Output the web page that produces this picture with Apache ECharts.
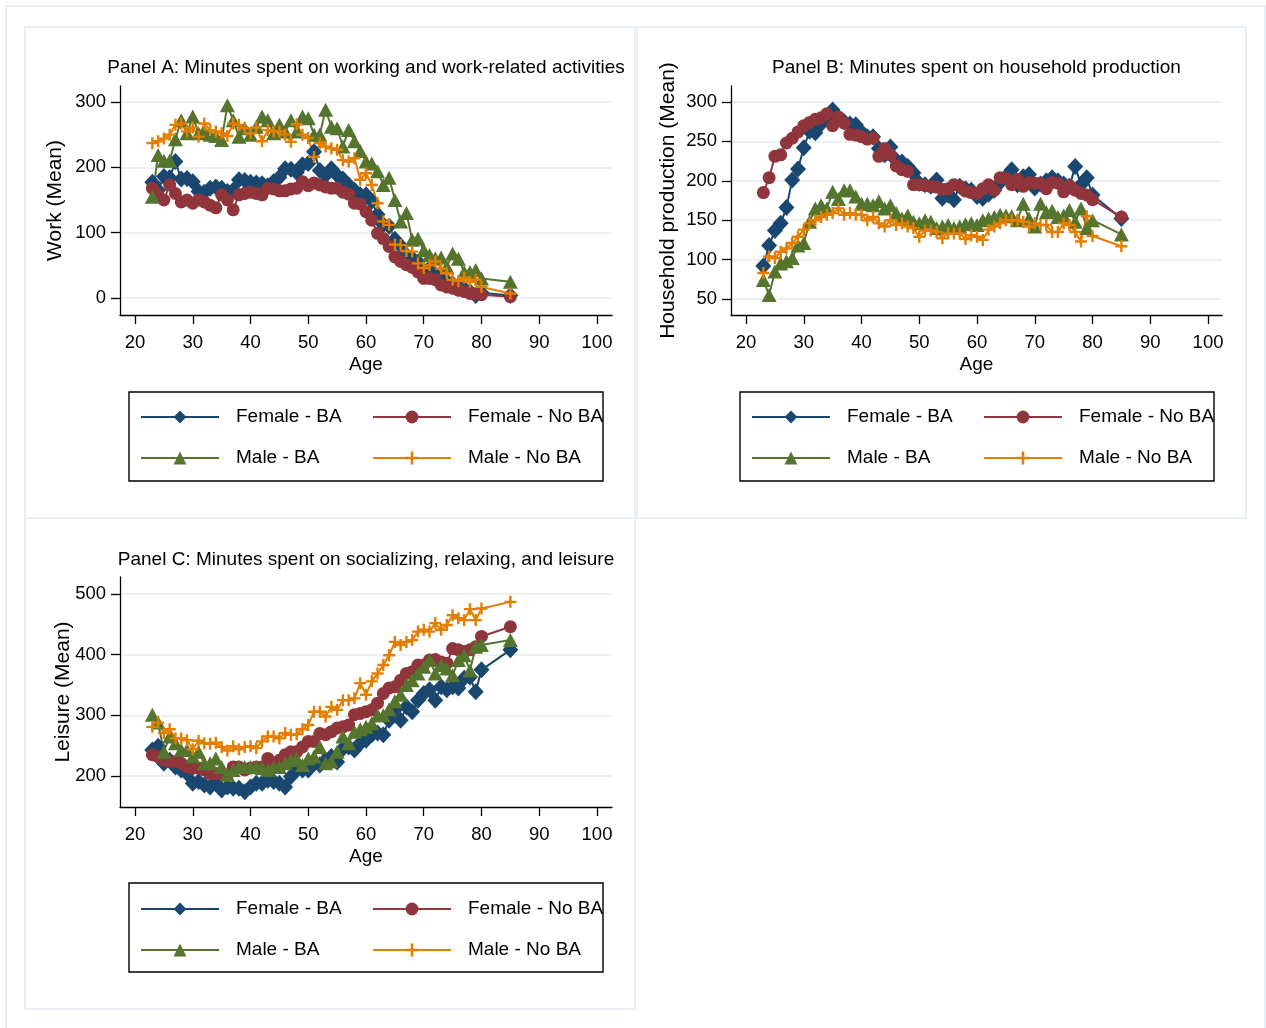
<!DOCTYPE html>
<html>
<head>
<meta charset="utf-8">
<script src="https://cdn.jsdelivr.net/npm/echarts@6/dist/echarts.min.js"></script>
<style>
  html, body { margin: 0; padding: 0; background: #ffffff; }
  #chart { width: 1266px; height: 1028px; }
</style>
</head>
<body>
<div id="chart"></div>
<script>
// Ages observed (23 through 80, then the 85+ group)
const ages = [23,24,25,26,27,28,29,30,31,32,33,34,35,36,37,38,39,40,41,42,
              43,44,45,46,47,48,49,50,51,52,53,54,55,56,57,58,59,60,61,62,
              63,64,65,66,67,68,69,70,71,72,73,74,75,76,77,78,79,80,85];

const groupNames = ['Female - BA', 'Female - No BA', 'Male - BA', 'Male - No BA'];

const ageTicks = [20, 30, 40, 50, 60, 70, 80, 90, 100];
const workTicks = [0, 100, 200, 300];
const homeTicks = [50, 100, 150, 200, 250, 300];
const leisureTicks = [200, 300, 400, 500];

const panelTitles = [
  'Panel A: Minutes spent on working and work-related activities',
  'Panel B: Minutes spent on household production',
  'Panel C: Minutes spent on socializing, relaxing, and leisure'
];
const yTitles = ['Work (Mean)', 'Household production (Mean)', 'Leisure (Mean)'];

// Panel A: work minutes
const workFemaleBA = [177,165,186,184,209,182,183,178,163,162,
                      168,170,168,163,165,181,180,177,176,175,
                      172,178,185,198,197,192,204,206,224,195,
                      188,198,188,182,173,165,158,158,148,128,
                      112,110,90,80,66,61,55,42,45,36,
                      30,24,22,18,14,10,4,8,
                      4];
const workFemaleNoBA = [168,158,150,173,160,147,150,145,150,147,
                        142,138,158,150,135,158,160,162,160,158,
                        168,167,164,164,167,168,178,172,176,173,
                        170,168,168,162,159,145,144,132,119,99,
                        91,79,63,56,51,47,40,30,30,28,
                        20,17,15,12,10,7,6,5,
                        2];
const workMaleBA = [155,219,210,210,243,272,252,278,252,255,
                    250,248,242,295,272,247,260,250,262,278,
                    272,252,265,255,272,255,278,275,250,250,
                    288,262,260,232,257,240,225,209,206,194,
                    173,184,150,117,130,89,91,73,66,61,
                    62,48,68,60,40,40,43,30,
                    25];
const workMaleNoBA = [237,240,244,250,265,267,255,261,247,267,
                      257,255,252,248,267,265,260,252,261,240,
                      257,255,255,250,239,266,250,245,216,237,
                      232,229,227,211,209,214,181,191,173,145,
                      117,112,82,81,72,71,53,46,50,56,
                      45,38,28,26,31,25,28,17,
                      7];

// Panel B: household production minutes
const homeFemaleBA = [92,118,137,146,166,201,215,242,263,261,
                      272,280,290,280,275,272,271,262,256,256,
                      241,233,243,226,224,218,210,197,195,193,
                      201,178,182,176,193,190,188,180,178,183,
                      188,198,205,214,195,205,208,191,196,200,
                      204,200,196,193,218,195,204,182,
                      152];
const homeFemaleNoBA = [185,204,231,233,248,254,262,270,274,278,
                        280,285,270,281,273,259,258,256,253,254,
                        231,241,233,219,214,212,195,195,194,193,
                        192,189,190,195,193,187,185,184,190,195,
                        188,204,203,195,202,193,198,197,197,190,
                        198,197,186,194,188,184,182,176,
                        154];
const homeMaleBA = [74,55,85,95,98,102,118,121,148,165,
                    169,165,186,177,188,188,180,171,171,169,
                    174,165,169,159,152,156,148,146,150,148,
                    140,142,144,140,142,145,146,144,150,152,
                    154,157,156,155,150,171,152,142,171,160,
                    162,154,156,163,148,165,140,150,
                    132];
const homeMaleNoBA = [83,104,102,110,114,121,129,138,146,150,
                      154,157,159,165,157,159,157,157,150,154,
                      146,142,150,144,146,142,140,129,137,137,
                      135,127,133,133,133,126,131,129,125,138,
                      142,146,150,150,150,148,142,146,144,144,
                      135,135,146,144,135,123,155,130,
                      117];

// Panel C: socializing, relaxing and leisure minutes
const leisureFemaleBA = [243,249,221,226,215,210,204,188,191,185,
                         182,188,177,182,180,180,174,182,188,188,
                         193,191,188,182,199,210,210,210,221,218,
                         226,232,223,245,248,243,254,259,268,271,
                         268,292,309,292,314,306,325,336,342,325,
                         347,342,347,345,361,363,339,375,
                         408];
const leisureFemaleNoBA = [235,232,226,224,224,221,215,213,213,210,
                           204,204,204,202,215,215,210,213,215,215,
                           229,221,226,235,240,240,248,257,257,270,
                           268,273,279,281,284,301,303,306,309,320,
                           336,345,347,358,369,372,383,383,391,392,
                           388,386,410,408,405,408,413,430,
                           446];
const leisureMaleBA = [301,288,240,265,254,243,243,232,240,221,
                       221,229,215,202,210,215,215,215,215,213,
                       210,215,215,221,226,229,218,229,232,248,
                       221,224,240,265,254,273,277,281,287,300,
                       300,310,323,334,350,358,369,380,391,369,
                       383,377,366,391,399,374,413,416,
                       424];
const leisureMaleNoBA = [281,288,271,277,262,262,259,244,258,254,
                         253,255,248,242,249,244,248,249,246,257,
                         265,265,262,271,268,269,277,284,306,306,
                         298,314,309,325,325,328,353,334,356,369,
                         383,399,421,416,421,424,438,441,438,452,
                         441,449,465,460,457,475,457,476,
                         487];

const FONT = "'Liberation Sans', Arial, Helvetica, sans-serif";
const GRID_COLOR = '#e5ecef';
const FRAME_COLOR = '#e9eff2';

const markerStyles = {
  'Female - BA':    { color: '#1a476f', symbol: 'diamond', size: [16, 17] },
  'Female - No BA': { color: '#90353b', symbol: 'circle', size: 13 },
  'Male - BA':      { color: '#55752f', symbol: 'triangle', size: [15, 14] },
  'Male - No BA':   { color: '#e37e00', symbol: 'path://M4,0H6V4H10V6H6V10H4V6H0V4H4Z', size: 12 }
};

const panelData = [
  [workFemaleBA, workFemaleNoBA, workMaleBA, workMaleNoBA],
  [homeFemaleBA, homeFemaleNoBA, homeMaleBA, homeMaleNoBA],
  [leisureFemaleBA, leisureFemaleNoBA, leisureMaleBA, leisureMaleNoBA]
];

// Plot areas, in pixels
const grids = [
  { left: 120, top: 86, width: 492, height: 229 },
  { left: 731, top: 86, width: 491, height: 229 },
  { left: 120, top: 577, width: 492, height: 230 }
];
const xRanges = [[17.4, 102.6], [17.4, 102.42], [17.4, 102.6]];
const yRanges = [[-26, 324.5], [29.7, 320.3], [148.9, 528]];
const yTickSets = [workTicks, homeTicks, leisureTicks];
const yNameGaps = [54.5, 52.5, 46.5];

function makeXAxis(i) {
  return {
    type: 'value', gridIndex: i, min: xRanges[i][0], max: xRanges[i][1],
    name: 'Age', nameLocation: 'middle', nameGap: 40, nameMoveOverlap: false,
    nameTextStyle: { fontSize: 19, color: '#000', fontFamily: FONT },
    axisLine: { show: true, onZero: false, lineStyle: { color: '#000', width: 1.3 } },
    axisTick: { show: true, length: 9, customValues: ageTicks, lineStyle: { color: '#000', width: 1.3 } },
    axisLabel: { show: true, customValues: ageTicks, margin: 18, fontSize: 18.5, color: '#000', fontFamily: FONT },
    splitLine: { show: false }
  };
}

function makeYAxis(i) {
  return {
    type: 'value', gridIndex: i, min: yRanges[i][0], max: yRanges[i][1],
    name: yTitles[i], nameLocation: 'middle', nameRotate: 90, nameGap: yNameGaps[i], nameMoveOverlap: false,
    nameTextStyle: { fontSize: 21, color: '#000', fontFamily: FONT },
    axisLine: { show: true, onZero: false, lineStyle: { color: '#000', width: 1.3 } },
    axisTick: { show: true, length: 9, customValues: yTickSets[i], lineStyle: { color: '#000', width: 1.3 } },
    axisLabel: { show: true, customValues: yTickSets[i], margin: 14, fontSize: 18.5, color: '#000', fontFamily: FONT },
    splitLine: { show: true, lineStyle: { color: GRID_COLOR, width: 1.6 } }
  };
}

function makeSeries(name, values, i) {
  const st = markerStyles[name];
  return {
    type: 'line', name: name, xAxisIndex: i, yAxisIndex: i,
    data: ages.map((a, k) => [a, values[k]]),
    symbol: st.symbol, symbolSize: st.size, showSymbol: true, showAllSymbol: true,
    itemStyle: { color: st.color, borderWidth: 0, opacity: 1 },
    lineStyle: { color: st.color, width: 2 },
    emphasis: { disabled: true },
    animation: false
  };
}

const series = [];
panelData.forEach((sets, i) => {
  sets.forEach((vals, j) => series.push(makeSeries(groupNames[j], vals, i)));
});

// Legend columns: left edge of icon and row top for each panel
const legendSpots = [
  { cols: [140, 372], top: 407 },
  { cols: [751, 983], top: 407 },
  { cols: [140, 372], top: 899 }
];
const legends = [];
legendSpots.forEach(spot => {
  [[groupNames[0], groupNames[2]], [groupNames[1], groupNames[3]]].forEach((names, c) => {
    legends.push({
      data: names, orient: 'vertical', left: spot.cols[c], top: spot.top,
      padding: 0, itemGap: 21, itemWidth: 78, itemHeight: 16,
      selectedMode: false,
      textStyle: { fontSize: 19, color: '#000', fontFamily: FONT, lineHeight: 20, padding: [0, 0, 0, 12] }
    });
  });
});

const frames = [
  [6, 6, 1259, 1030, FRAME_COLOR, 2],
  [25, 27, 610, 491, FRAME_COLOR, 2],
  [637, 27, 609, 491, FRAME_COLOR, 2],
  [25, 518, 610, 491, FRAME_COLOR, 2],
  [129, 392, 474, 89, '#000', 1.4],
  [740, 392, 474, 89, '#000', 1.4],
  [129, 883, 474, 89, '#000', 1.4]
];
const graphics = frames.map(f => ({
  type: 'rect', z: -10, silent: true,
  shape: { x: f[0], y: f[1], width: f[2], height: f[3] },
  style: { fill: 'none', stroke: f[4], lineWidth: f[5] }
}));
const titleSpots = [[366, 68], [976.5, 68], [366, 560]];
titleSpots.forEach((p, i) => {
  graphics.push({
    type: 'text', x: p[0], y: p[1], silent: true,
    style: { text: panelTitles[i], fontSize: 19, fontFamily: FONT, fill: '#000', align: 'center', verticalAlign: 'middle' }
  });
});

const chart = echarts.init(document.getElementById('chart'), null, { renderer: 'canvas' });
chart.setOption({
  backgroundColor: '#ffffff',
  animation: false,
  textStyle: { fontFamily: FONT },
  grid: grids.map(g => Object.assign({ outerBoundsMode: 'none', containLabel: false }, g)),
  xAxis: [0, 1, 2].map(makeXAxis),
  yAxis: [0, 1, 2].map(makeYAxis),
  legend: legends,
  graphic: graphics,
  series: series
});
</script>
</body>
</html>
